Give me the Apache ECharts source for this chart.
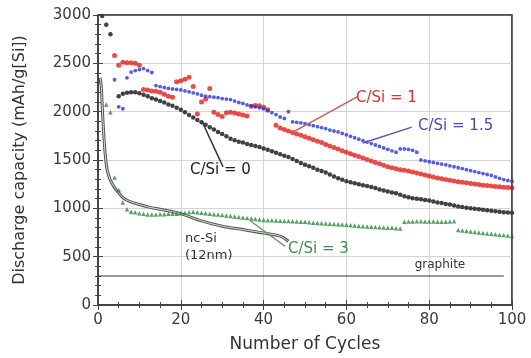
<!DOCTYPE html>
<html><head><meta charset="utf-8">
<script src="https://cdn.jsdelivr.net/npm/echarts@6/dist/echarts.min.js"></script>
<style>html,body{margin:0;padding:0;background:#fff}#c{width:531px;height:358px}</style>
</head><body><div id="c"></div>
<script>
// Values indexed by cycle number, starting at cycle 1 (null = no point)
const csi0 = [2990,2900,2800,null,2160,2185,2195,2200,2200,2190,2175,2160,2140,2125,2110,2095,2075,2060,2040,2020,
1995,1965,1940,1915,1890,1865,1840,1815,1790,1770,1745,1720,1705,1690,1680,1665,1655,1645,1635,1620,
1605,1590,1575,1560,1545,1530,1510,1490,1470,1450,1435,1420,1400,1385,1370,1350,1330,1310,1295,1280,
1270,1260,1250,1240,1230,1220,1210,1195,1185,1175,1165,1155,1140,1125,1115,1105,1100,1095,1085,1080,
1070,1060,1055,1045,1040,1030,1020,1015,1005,1000,995,990,985,980,975,970,965,960,958,955];
const csi1 = [null,null,null,2580,2480,2510,2505,2505,2500,2480,2230,2225,2215,2210,2200,2180,2160,2150,2310,2320,
2335,2355,2260,1975,2100,2130,2240,1995,1970,1950,1990,1995,1985,1975,1965,1955,2055,2065,2060,2045,
2020,null,1860,1830,1815,1800,1785,1770,1755,1740,1725,1710,1695,1680,1660,1645,1630,1615,1595,1580,
1565,1550,1535,1520,1505,1490,1475,1460,1445,1430,1420,1410,1400,1395,1385,1375,1365,1355,1345,1335,
1325,1315,1305,1298,1290,1283,1276,1270,1264,1258,1252,1246,1240,1235,1230,1226,1222,1218,1215,1212];
const csi15 = [null,null,null,2330,2050,2030,2350,2410,2425,2435,2445,2425,2405,2270,2260,2250,2240,2235,2230,2225,
2215,2205,2195,2185,2170,2160,2155,2150,2145,2135,2130,2125,2110,2095,2085,2070,2060,2050,2040,2030,
2010,1990,1970,1945,1930,2000,1895,1890,1885,1875,1865,1855,1845,1835,1825,1810,1800,1790,1775,1760,
1745,1730,1715,1700,1685,1670,1655,1640,1625,1610,1595,1580,1615,1615,1610,1600,1580,1500,1490,1482,
1474,1466,1458,1450,1440,1430,1420,1411,1400,1390,1380,1370,1360,1350,1340,1325,1310,1298,1288,1280];
const csi3 = [null,2075,1995,1320,1190,1060,990,965,960,950,945,935,935,935,940,940,945,945,945,950,
955,960,965,960,955,950,945,940,935,930,925,920,915,910,905,900,895,890,885,880,
878,876,874,872,870,868,866,864,862,860,856,852,848,845,842,840,838,836,834,830,
826,822,818,815,812,810,808,805,803,800,798,795,792,860,863,865,866,866,865,864,
863,862,861,862,864,866,775,770,765,760,755,750,745,740,736,732,728,724,720,715];
const ncSiCycles = [0.5,0.8,1.2,1.7,2.2,3,4,5,6,8,10,12,15,18,20,25,30,35,40,44,46];
const ncSiValues = [2350,2250,1900,1580,1400,1290,1215,1160,1110,1065,1040,1015,990,965,945,870,815,780,745,712,660];
const graphiteCycles = [0, 98];
const graphiteValues = [300, 300];
const xTicks = [0,20,40,60,80,100];
const yTicks = [0,500,1000,1500,2000,2500,3000];

function pairs(arr){ return arr.map((v,i)=>[i+1,v]).filter(p=>p[1]!==null); }
function zipPairs(xs,ys){ return xs.map((x,i)=>[x,ys[i]]); }

const chart = echarts.init(document.getElementById('c'));
const FONT = 'DejaVu Sans';
const TICK = '#444';
const X0 = xTicks[0], X1 = xTicks[xTicks.length-1], Y0 = yTicks[0], Y1 = yTicks[yTicks.length-1];
function ax(extra){
  return Object.assign({type:'value',
    axisLine:{show:true,lineStyle:{color:TICK,width:1.5}},
    axisTick:{show:true,inside:true,length:5,lineStyle:{color:TICK,width:1}},
    splitLine:{show:false},axisLabel:{show:false}}, extra);
}
const option = {
  animation:false,
  grid:{left:98,top:15,width:414,height:292,show:true,borderColor:TICK,borderWidth:1.5},
  xAxis:[
    ax({min:X0,max:X1,interval:20,position:'bottom',
      minorTick:{show:true,splitNumber:4,length:3,lineStyle:{color:TICK}},
      splitLine:{show:true,lineStyle:{color:'#d4d4d4',width:1}},
      axisLabel:{show:true,color:'#3a3a3a',fontFamily:FONT,fontSize:15,margin:8},
      name:'Number of Cycles',nameLocation:'middle',nameGap:31,
      nameTextStyle:{color:'#333',fontFamily:FONT,fontSize:17}}),
    ax({min:X0,max:X1,interval:20,position:'top',
      minorTick:{show:true,splitNumber:4,length:3,lineStyle:{color:TICK}}})
  ],
  yAxis:[
    ax({min:Y0,max:Y1,interval:500,position:'left',
      minorTick:{show:true,splitNumber:5,length:3,lineStyle:{color:TICK}},
      splitLine:{show:true,lineStyle:{color:'#d4d4d4',width:1}},
      axisLabel:{show:true,color:'#3a3a3a',fontFamily:FONT,fontSize:15,margin:7,formatter:v=>String(v)},
      name:'Discharge capacity (mAh/g[Si])',nameLocation:'middle',nameGap:70,nameRotate:90,
      nameTextStyle:{color:'#333',fontFamily:FONT,fontSize:16}}),
    ax({min:Y0,max:Y1,interval:500,position:'right',
      minorTick:{show:true,splitNumber:5,length:3,lineStyle:{color:TICK}}})
  ],
  series:[
    {type:'line',data:[[X0,Y0],[X1,Y0],[X1,Y1],[X0,Y1],[X0,Y0]],symbol:'none',clip:false,silent:true,
      lineStyle:{color:TICK,width:1.5},z:10},
    {type:'line',data:zipPairs(graphiteCycles,graphiteValues),symbol:'none',lineStyle:{color:'#333',width:1},z:2},
    {type:'line',data:zipPairs(ncSiCycles,ncSiValues),symbol:'none',smooth:0.3,lineStyle:{color:'#555',width:3},z:3},
    {type:'line',data:zipPairs(ncSiCycles,ncSiValues),symbol:'none',smooth:0.3,lineStyle:{color:'#dcdcdc',width:1},z:3},
    {type:'scatter',data:pairs(csi3),symbol:'triangle',symbolSize:4.5,itemStyle:{color:'#2f8a3c'},z:4},
    {type:'scatter',data:pairs(csi0),symbol:'circle',symbolSize:4.5,itemStyle:{color:'#111'},z:5},
    {type:'scatter',data:pairs(csi1),symbol:'circle',symbolSize:5,itemStyle:{color:'#e3211c'},z:6},
    {type:'scatter',data:pairs(csi15),symbol:'circle',symbolSize:3.8,itemStyle:{color:'#2a36d6'},z:7}
  ]
};
chart.setOption(option);

const px = (x,y)=>chart.convertToPixel({gridIndex:0},[x,y]);
const g = [];
// annotations placed in data coordinates
const annotations = [
  {text:'C/Si = 1', at:[62.3,2138], color:'#d4362e', size:15, line:[[47.1,1788],[62.8,2158]], lineColor:'#c06060'},
  {text:'C/Si = 1.5', at:[77.3,1850], color:'#4a4ab8', size:15, line:[[64,1675],[75.8,1840]], lineColor:'#5a5aa8'},
  {text:'C/Si = 0', at:[22.2,1398], color:'#222', size:15, line:[[25.1,1901],[30.2,1429]], lineColor:'#333'},
  {text:'C/Si = 3', at:[45.9,576], color:'#3e8e4c', size:15, line:[[36.7,874],[45.2,606]], lineColor:'#6aa070'},
  {text:'nc-Si', at:[21,689], color:'#333', size:13},
  {text:'(12nm)', at:[21,514], color:'#333', size:13},
  {text:'graphite', at:[82.6,411], color:'#333', size:12, align:'center'}
];
annotations.forEach(a=>{
  const p = px(a.at[0],a.at[1]);
  if (a.line){
    const p1 = px(a.line[0][0],a.line[0][1]);
    const p2 = px(a.line[1][0],a.line[1][1]);
    g.push({type:'line',shape:{x1:p1[0],y1:p1[1],x2:p2[0],y2:p2[1]},style:{stroke:a.lineColor,lineWidth:1.5},z:20});
  }
  g.push({type:'text',x:p[0],y:p[1],style:{text:a.text,fill:a.color,font:a.size+'px "'+FONT+'"',
    textAlign:a.align||'left',textVerticalAlign:'middle'},z:21});
});
chart.setOption({graphic:g});
</script></body></html>
